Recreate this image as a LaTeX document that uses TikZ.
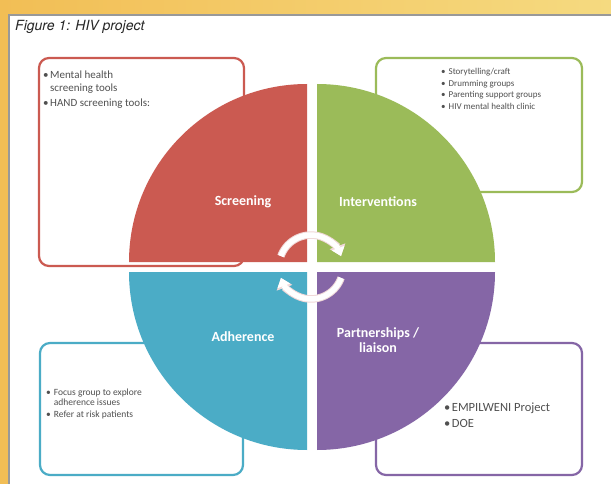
\documentclass[tikz,border=0pt]{standalone}
\usepackage{fontspec}
\setmainfont{Carlito}
\newfontfamily\titlefont{TeX Gyre Heros}
\usetikzlibrary{arrows.meta}
\definecolor{qred}{HTML}{CB5A51}
\definecolor{qgreen}{HTML}{9BBB59}
\definecolor{qblue}{HTML}{4BACC6}
\definecolor{qpurple}{HTML}{8566A6}
\definecolor{boxtext}{HTML}{505050}
\definecolor{gold1}{HTML}{F2BE55}
\definecolor{gold2}{HTML}{FAEAB8}
\definecolor{gold3}{HTML}{F5DA80}
\definecolor{arrowedge}{HTML}{F0D8D8}
\begin{document}
\begin{tikzpicture}[x=1pt,y=-1pt,
  infobox/.style={rounded corners=10pt, line width=2.2pt, fill=white},
  qlabel/.style={text=white, font=\bfseries\fontsize{14}{16}\selectfont, inner sep=0pt},
  boxtxt/.style={anchor=base west, text=boxtext, inner sep=0pt, align=left},
  cycedge/.style={line width=7.5pt, draw=arrowedge, -{Triangle[width=16pt,length=10.5pt]}},
  cycarrow/.style={line width=5.5pt, draw=white, -{Triangle[width=13pt,length=8.5pt]}}]
\useasboundingbox (0,0) rectangle (611,484);
% background frame
\shade[left color=gold1, middle color=gold2, right color=gold3] (0,0) rectangle (611,484);
\fill[white] (9,15) rectangle (611,484);
\draw[gray!80, line width=1.5pt] (9,484) -- (9,15) -- (611,15);
\node[anchor=base west, inner sep=0pt, text=black!85, font=\titlefont\itshape\fontsize{14}{16}\selectfont] (title) at (15,31) {Figure 1: HIV project};
% side boxes
\draw[infobox, draw=qred] (39,58) rectangle (244,266);
\draw[infobox, draw=qgreen] (376,58) rectangle (582,192);
\draw[infobox, draw=qblue] (40,343) rectangle (243,475);
\draw[infobox, draw=qpurple] (376,343) rectangle (582,475);
% quadrants
\fill[qred] (307,262) -- (129,262) arc[start angle=180, end angle=270, radius=178] -- cycle;
\fill[qgreen] (317,262) -- (317,84) arc[start angle=270, end angle=360, radius=178] -- cycle;
\fill[qblue] (307,272) -- (129,272) arc[start angle=180, end angle=90, radius=178] -- cycle;
\fill[qpurple] (317,272) -- (495,272) arc[start angle=0, end angle=90, radius=178] -- cycle;
% quadrant labels
\node[qlabel] (screening) at (243,202) {Screening};
\node[qlabel] (interventions) at (378,202) {Interventions};
\node[qlabel] (adherence) at (243,337) {Adherence};
\node[qlabel, align=center] (partnerships) at (378,340) {Partnerships /\\[-1pt]liaison};
% cycle arrows
\draw[cycedge] (280.9,256.1) arc[start angle=-160, end angle=-20, radius=32];
\draw[cycarrow] (280.9,256.1) arc[start angle=-160, end angle=-20, radius=32];
\draw[cycedge] (341.1,277.9) arc[start angle=20, end angle=160, radius=32];
\draw[cycarrow] (341.1,277.9) arc[start angle=20, end angle=160, radius=32];
% box texts
\node[boxtxt, font=\fontsize{11}{13.5}\selectfont] (redtxt) at (43,78.5)
  {\begin{tabular}[t]{@{}l@{\hspace{1.5pt}}l@{}}\textbullet&Mental health\\&screening tools\\[1.5pt]\textbullet&HAND screening tools:\end{tabular}};
\node[boxtxt, font=\fontsize{9}{11.5}\selectfont] (greentxt) at (441,75)
  {\begin{tabular}[t]{@{}l@{\hspace{3pt}}l@{}}\textbullet&Storytelling/craft\\\textbullet&Drumming groups\\\textbullet&Parenting support groups\\\textbullet&HIV mental health clinic\end{tabular}};
\node[boxtxt, font=\fontsize{9.5}{10}\selectfont] (bluetxt) at (46,395)
  {\begin{tabular}[t]{@{}l@{\hspace{3pt}}l@{}}\textbullet&Focus group to explore\\&adherence issues\\[2.5pt]\textbullet&Refer at risk patients\end{tabular}};
\node[boxtxt, font=\fontsize{12.5}{16}\selectfont] (purpletxt) at (444,411)
  {\begin{tabular}[t]{@{}l@{\hspace{1.5pt}}l@{}}\textbullet&EMPILWENI Project\\\textbullet&DOE\end{tabular}};
\end{tikzpicture}
\end{document}
